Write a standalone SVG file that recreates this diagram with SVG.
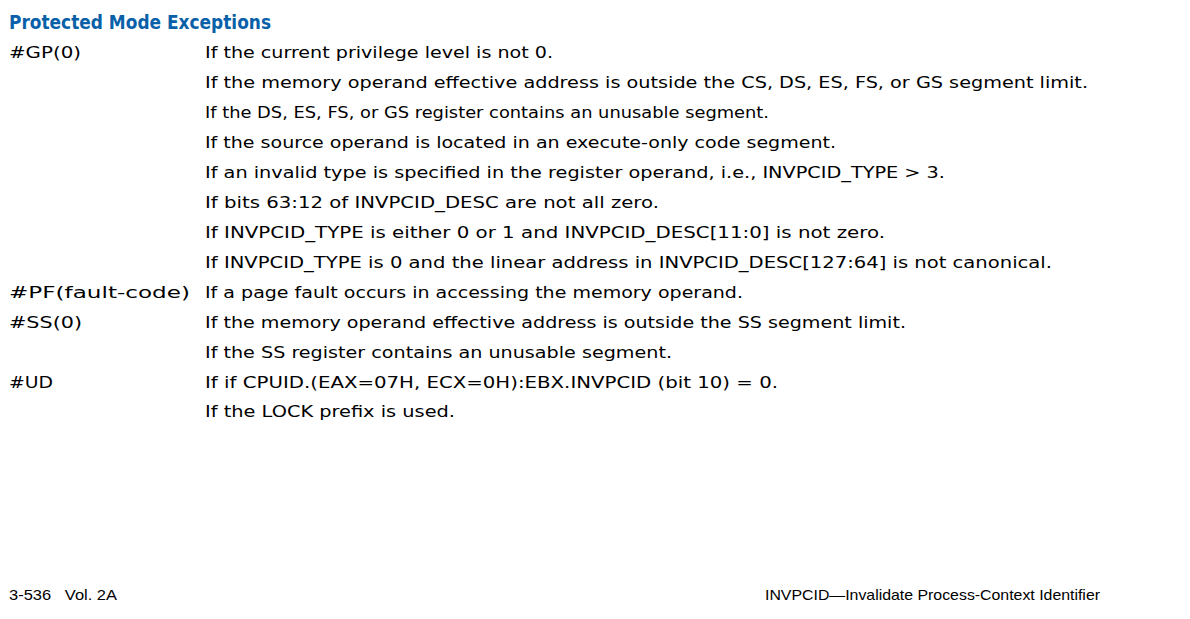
<svg xmlns="http://www.w3.org/2000/svg" width="1190" height="619" viewBox="0 0 1190 619">
<style>
text{font-family:"DejaVu Sans","Verdana",sans-serif;fill:#000;font-size:16.5px}
.t{font-weight:bold;fill:#0860a8;font-size:19.5px}
.f{font-family:"Liberation Sans",Arial,sans-serif;font-size:15px}
</style>
<rect width="1190" height="619" fill="#fff"/>
<text class="t" x="9" y="29" textLength="262" lengthAdjust="spacingAndGlyphs">Protected Mode Exceptions</text>
<g id="codes">
<text x="9" y="58" textLength="72" lengthAdjust="spacingAndGlyphs">#GP(0)</text>
<text x="9" y="298" textLength="181" lengthAdjust="spacingAndGlyphs">#PF(fault-code)</text>
<text x="9" y="328" textLength="73" lengthAdjust="spacingAndGlyphs">#SS(0)</text>
<text x="9" y="388" textLength="44" lengthAdjust="spacingAndGlyphs">#UD</text>
</g>
<g id="descriptions">
<text x="205" y="58" textLength="348" lengthAdjust="spacingAndGlyphs">If the current privilege level is not 0.</text>
<text x="205" y="88" textLength="883" lengthAdjust="spacingAndGlyphs">If the memory operand effective address is outside the CS, DS, ES, FS, or GS segment limit.</text>
<text x="205" y="118" textLength="564" lengthAdjust="spacingAndGlyphs">If the DS, ES, FS, or GS register contains an unusable segment.</text>
<text x="205" y="148" textLength="631" lengthAdjust="spacingAndGlyphs">If the source operand is located in an execute-only code segment.</text>
<text x="205" y="178" textLength="740" lengthAdjust="spacingAndGlyphs">If an invalid type is specified in the register operand, i.e., INVPCID_TYPE &gt; 3.</text>
<text x="205" y="208" textLength="454" lengthAdjust="spacingAndGlyphs">If bits 63:12 of INVPCID_DESC are not all zero.</text>
<text x="205" y="238" textLength="680" lengthAdjust="spacingAndGlyphs">If INVPCID_TYPE is either 0 or 1 and INVPCID_DESC[11:0] is not zero.</text>
<text x="205" y="268" textLength="847" lengthAdjust="spacingAndGlyphs">If INVPCID_TYPE is 0 and the linear address in INVPCID_DESC[127:64] is not canonical.</text>
<text x="205" y="298" textLength="538" lengthAdjust="spacingAndGlyphs">If a page fault occurs in accessing the memory operand.</text>
<text x="205" y="328" textLength="701" lengthAdjust="spacingAndGlyphs">If the memory operand effective address is outside the SS segment limit.</text>
<text x="205" y="358" textLength="467" lengthAdjust="spacingAndGlyphs">If the SS register contains an unusable segment.</text>
<text x="205" y="388" textLength="573" lengthAdjust="spacingAndGlyphs">If if CPUID.(EAX=07H, ECX=0H):EBX.INVPCID (bit 10) = 0.</text>
<text x="205" y="417" textLength="250" lengthAdjust="spacingAndGlyphs">If the LOCK prefix is used.</text>
</g>
<g id="footer">
<text class="f" x="9" y="600" textLength="108" lengthAdjust="spacingAndGlyphs" xml:space="preserve">3-536   Vol. 2A</text>
<text class="f" x="765" y="600" textLength="335" lengthAdjust="spacingAndGlyphs">INVPCID—Invalidate Process-Context Identifier</text>
</g>
</svg>
